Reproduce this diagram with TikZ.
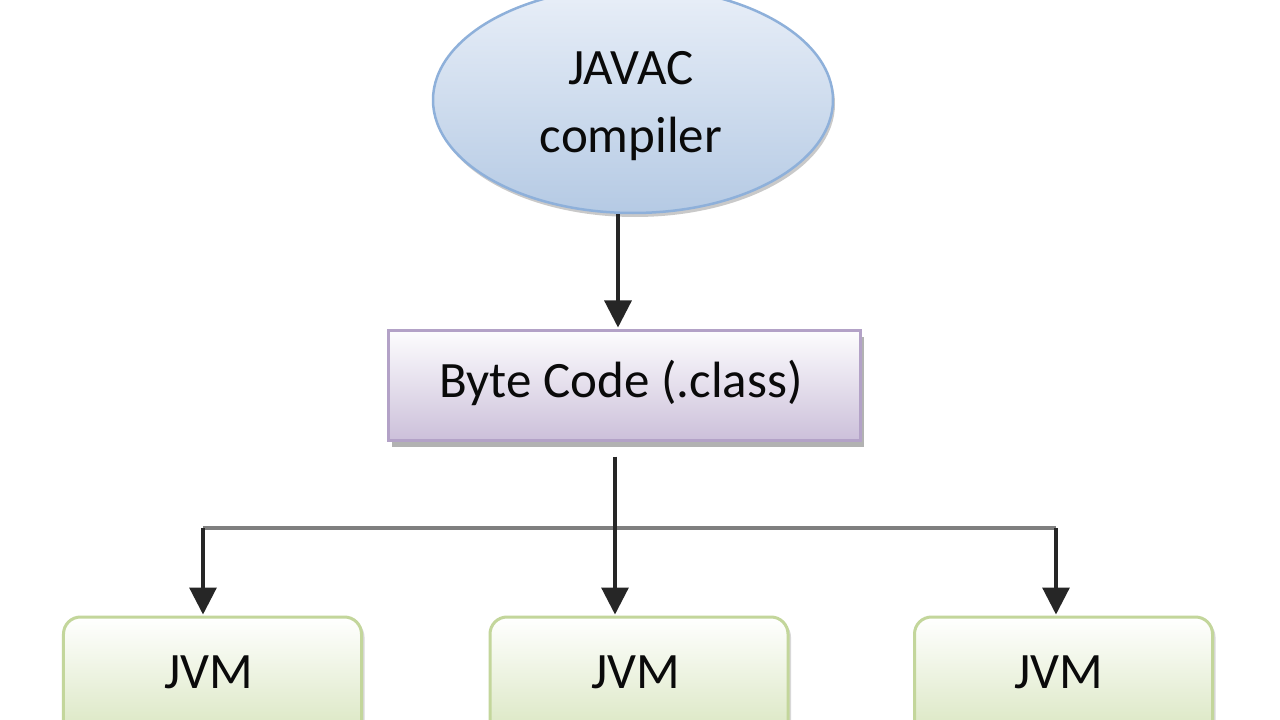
\documentclass[tikz,border=0pt]{standalone}
\usepackage{fontspec}
\setmainfont{Carlito}
\usetikzlibrary{arrows.meta,shapes.geometric,shadows}
\definecolor{ellborder}{HTML}{8EB0DA}
\definecolor{elltop}{HTML}{E9EFF8}
\definecolor{ellbot}{HTML}{B5CAE4}
\definecolor{bytborder}{HTML}{B3A2C7}
\definecolor{byttop}{HTML}{FDFDFE}
\definecolor{bytbot}{HTML}{CCC0DA}
\definecolor{jvmborder}{HTML}{C3D69B}
\definecolor{jvmtop}{HTML}{FFFFFF}
\definecolor{jvmbot}{HTML}{D3E2B6}
\definecolor{hgray}{HTML}{7F7F7F}
\definecolor{txtcol}{HTML}{0A0A0A}
\begin{document}
\begin{tikzpicture}[x=1bp,y=-1bp,
  lbl/.style={font=\fontsize{51bp}{68bp}\selectfont, text=txtcol, inner sep=0pt},
  javacshape/.style={ellipse, draw=ellborder, line width=2.5bp, top color=elltop, bottom color=ellbot,
    minimum width=400bp, minimum height=226bp, inner sep=0pt,
    drop shadow={shadow xshift=2bp, shadow yshift=-4bp, opacity=0.35, fill=black!60}},
  bytebox/.style={rectangle, draw=bytborder, line width=3bp, top color=byttop, bottom color=bytbot,
    minimum width=472bp, minimum height=110bp, inner sep=0pt,
    drop shadow={shadow xshift=4bp, shadow yshift=-7bp, opacity=0.55, fill=black!55}},
  jvmbox/.style={rectangle, rounded corners=17bp, draw=jvmborder, line width=3bp, top color=jvmtop, bottom color=jvmbot,
    minimum width=298bp, minimum height=140bp, inner sep=0pt,
    drop shadow={shadow xshift=3bp, shadow yshift=-3bp, opacity=0.3, fill=black!50}},
  conn/.style={line width=3.2bp, draw=black!85, -{Triangle[width=27bp,length=27bp]}},
  hline/.style={line width=3.2bp, draw=hgray}
]
\useasboundingbox (0,0) rectangle (1280,720);
\clip (0,0) rectangle (1280,720);
\fill[white] (0,0) rectangle (1280,720);

% nodes
\node[javacshape] (javac) at (633,100) {};
\node[lbl, align=center] (javactxt) at (631,106) {JAVAC\\compiler};
\node[bytebox] (byte) at (624,385) {};
\node[lbl] (bytetxt) at (621,383) {Byte Code (.class)};
\node[jvmbox] (jvm1) at (212.5,687) {};
\node[jvmbox] (jvm2) at (639,687) {};
\node[jvmbox] (jvm3) at (1063.5,687) {};
\node[lbl] (jvm1txt) at (209,672) {JVM};
\node[lbl] (jvm2txt) at (636,672) {JVM};
\node[lbl] (jvm3txt) at (1059,672) {JVM};

% connector coordinates
\coordinate (c0) at (618,0);
\coordinate (s1) at (203,528);
\coordinate (s2) at (615,528);
\coordinate (s3) at (1056,528);
\coordinate (b2) at (615,0);

% javac -> byte code
\draw[conn] (javac.south -| c0) -- ([yshift=1bp]byte.north -| c0);
% byte code -> jvms
\draw[hline] (s1) -- (s3);
\draw[conn, shorten <=15bp] (byte.south -| b2) -- ([yshift=1bp]jvm2.north -| s2);
\draw[conn] (s1) -- ([yshift=1bp]jvm1.north -| s1);
\draw[conn] (s3) -- ([yshift=1bp]jvm3.north -| s3);
\end{tikzpicture}
\end{document}
